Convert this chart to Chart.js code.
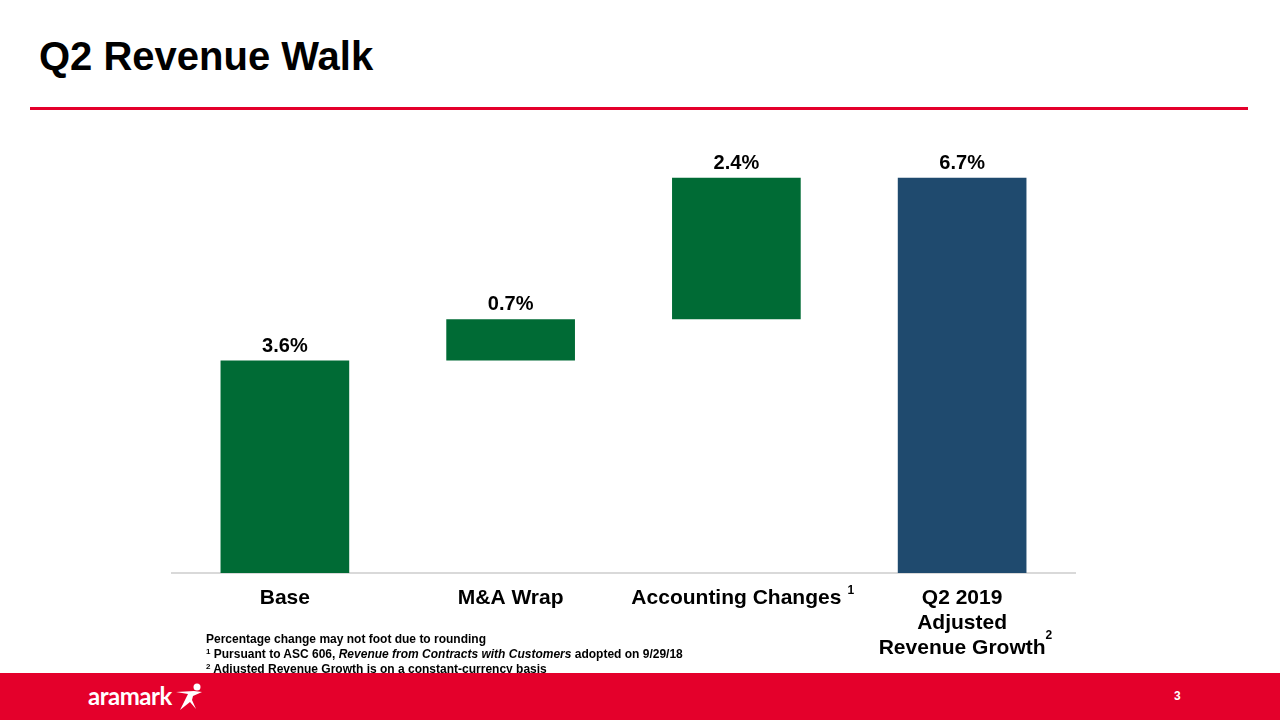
<!DOCTYPE html>
<html>
<head>
<meta charset="utf-8">
<script src="https://cdn.jsdelivr.net/npm/chart.js@4"></script>
<style>
  html, body { margin: 0; padding: 0; background: #fff; }
  body { width: 1280px; height: 720px; position: relative; overflow: hidden; font-family: "Liberation Sans", Arial, sans-serif; }
  #title { position: absolute; left: 39px; top: 34px; font-size: 40px; font-weight: bold; color: #000; }
  #rule { position: absolute; left: 30px; top: 107px; width: 1218px; height: 3px; background: #e4002b; }
  #wrap { position: absolute; left: 0; top: 0; width: 1280px; height: 720px; }
  #notes { position: absolute; left: 206px; top: 632px; font-size: 12px; font-weight: bold; line-height: 15px; color: #000; }
  #notes sup { font-size: 8px; vertical-align: 4px; line-height: 0; }
  #footer { position: absolute; left: 0; top: 673px; width: 1280px; height: 47px; background: #e4002b; }
  #logo { position: absolute; left: 88px; top: 8px; font-size: 24px; font-weight: bold; color: #fff; font-family: "Lato", "Liberation Sans", sans-serif; letter-spacing: -0.5px; }
  #page { position: absolute; left: 1174px; top: 16px; font-size: 12px; font-weight: bold; color: #fff; }
</style>
</head>
<body>
<div id="title">Q2 Revenue Walk</div>
<div id="rule"></div>
<div id="wrap"><canvas id="walk" width="1280" height="720"></canvas></div>
<div id="notes">
  Percentage change may not foot due to rounding<br>
  <sup>1</sup> Pursuant to ASC 606, <i>Revenue from Contracts with Customers</i> adopted on 9/29/18<br>
  <sup>2</sup> Adjusted Revenue Growth is on a constant-currency basis
</div>
<div id="footer">
  <div id="logo">aramark<svg width="30" height="28" viewBox="0 0 30 28" style="vertical-align:-6px;margin-left:2px">
    <circle cx="23" cy="4" r="3.5" fill="#fff"/>
    <path d="M2 9 L20 8 L28 9 L19 13 L18 17 L22 26 L16 19 L6 27 L12 15 L14 11 Z" fill="#fff"/>
  </svg></div>
  <div id="page">3</div>
</div>
<script>
const categories = [['Base'], ['M&A Wrap'], ['Accounting Changes'], ['Q2 2019', 'Adjusted', 'Revenue Growth']];
const superscripts = ['', '', '1', '2'];
const changes = [3.6, 0.7, 2.4, 6.7];
const valueLabels = ['3.6%', '0.7%', '2.4%', '6.7%'];
const barColors = ['#006b35', '#006b35', '#006b35', '#1f4a6e'];

// floating bars: steps stack on each other, the total starts from zero
const floating = [];
let running = 0;
for (let i = 0; i < changes.length; i++) {
    if (i === changes.length - 1) {
        floating.push([0, changes[i]]);
    } else {
        floating.push([running, running + changes[i]]);
        running += changes[i];
    }
}

const labelPlugin = {
    id: 'walkLabels',
    afterDraw(chart) {
        const ctx = chart.ctx;
        const xs = chart.scales.x;
        const meta = chart.getDatasetMeta(0);
        ctx.save();
        ctx.fillStyle = '#000';
        ctx.textAlign = 'center';
        // value labels above bars
        ctx.font = 'bold 20px "Liberation Sans", Arial, sans-serif';
        ctx.textBaseline = 'alphabetic';
        meta.data.forEach((bar, i) => {
            ctx.fillText(valueLabels[i], bar.x, bar.y - 9);
        });
        // category labels under the axis
        ctx.font = 'bold 21px "Liberation Sans", Arial, sans-serif';
        ctx.textBaseline = 'middle';
        categories.forEach((lines, i) => {
            const x = xs.getPixelForValue(i);
            lines.forEach((line, j) => {
                const y = chart.chartArea.bottom + 25 + j * 25;
                ctx.fillText(line, x, y);
                if (j === lines.length - 1 && superscripts[i]) {
                    const w = ctx.measureText(line).width;
                    ctx.save();
                    ctx.font = 'bold 12px "Liberation Sans", Arial, sans-serif';
                    ctx.textAlign = 'left';
                    const lift = i === 2 ? 7 : 12;
                    ctx.fillText(superscripts[i], x + w / 2 + (i === 2 ? 6 : 0), y - lift);
                    ctx.restore();
                }
            });
        });
        ctx.restore();
    }
};

new Chart(document.getElementById('walk').getContext('2d'), {
    type: 'bar',
    data: {
        labels: categories.map(c => c.join(' ')),
        datasets: [{
            data: floating,
            backgroundColor: barColors,
            borderWidth: 0,
            barPercentage: 0.57,
            categoryPercentage: 1.0
        }]
    },
    options: {
        responsive: false,
        animation: false,
        layout: { padding: { left: 172, right: 205, top: 160, bottom: 139 } },
        plugins: { legend: { display: false }, tooltip: { enabled: false } },
        scales: {
            x: {
                grid: { display: false },
                border: { display: true, color: '#d9d9d9', width: 2 },
                ticks: { display: false }
            },
            y: {
                display: false,
                min: 0,
                max: 7
            }
        }
    },
    plugins: [labelPlugin]
});
</script>
</body>
</html>
